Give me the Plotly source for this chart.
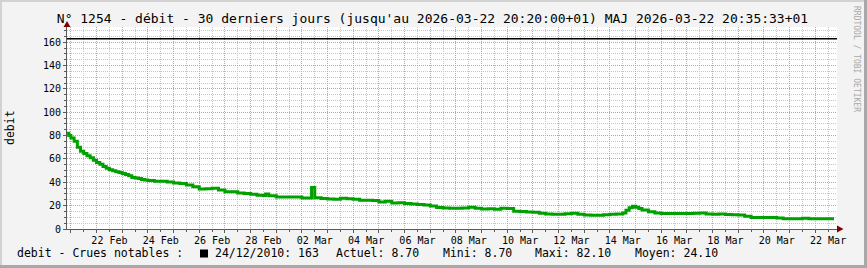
import plotly.graph_objects as go

# ---------------- data ----------------
times = [
    "2026-02-20 20:20", "2026-02-20 22:00",
    "2026-02-21 00:00", "2026-02-21 03:00", "2026-02-21 06:00", "2026-02-21 09:00",
    "2026-02-21 12:00", "2026-02-21 15:00", "2026-02-21 18:00", "2026-02-21 21:00",
    "2026-02-22 00:00", "2026-02-22 03:00", "2026-02-22 06:00", "2026-02-22 09:00",
    "2026-02-22 12:00", "2026-02-22 15:00", "2026-02-22 18:00", "2026-02-22 21:00",
    "2026-02-23 00:00", "2026-02-23 03:00", "2026-02-23 06:00", "2026-02-23 09:00",
    "2026-02-23 12:00", "2026-02-23 15:00", "2026-02-23 18:00", "2026-02-23 21:00",
    "2026-02-24 00:00", "2026-02-24 06:00", "2026-02-24 12:00", "2026-02-24 18:00",
    "2026-02-25 00:00", "2026-02-25 06:00", "2026-02-25 12:00", "2026-02-25 18:00",
    "2026-02-26 00:00", "2026-02-26 06:00", "2026-02-26 12:00", "2026-02-26 18:00",
    "2026-02-27 00:00", "2026-02-27 06:00", "2026-02-27 12:00", "2026-02-27 18:00",
    "2026-02-28 00:00", "2026-02-28 06:00", "2026-02-28 12:00", "2026-02-28 14:00", "2026-02-28 17:00",
    "2026-03-01 00:00", "2026-03-01 06:00", "2026-03-01 12:00", "2026-03-01 18:00",
    "2026-03-02 00:00", "2026-03-02 06:00", "2026-03-02 09:00", "2026-03-02 12:00", "2026-03-02 18:00",
    "2026-03-03 00:00", "2026-03-03 06:00", "2026-03-03 12:00", "2026-03-03 18:00",
    "2026-03-04 00:00", "2026-03-04 06:00", "2026-03-04 12:00", "2026-03-04 18:00",
    "2026-03-05 00:00", "2026-03-05 06:00", "2026-03-05 12:00", "2026-03-05 18:00",
    "2026-03-06 00:00", "2026-03-06 06:00", "2026-03-06 12:00", "2026-03-06 18:00",
    "2026-03-07 00:00", "2026-03-07 06:00", "2026-03-07 12:00", "2026-03-07 18:00",
    "2026-03-08 00:00", "2026-03-08 06:00", "2026-03-08 12:00", "2026-03-08 18:00",
    "2026-03-09 00:00", "2026-03-09 06:00", "2026-03-09 12:00", "2026-03-09 18:00",
    "2026-03-10 00:00", "2026-03-10 06:00", "2026-03-10 12:00", "2026-03-10 18:00",
    "2026-03-11 00:00", "2026-03-11 06:00", "2026-03-11 12:00", "2026-03-11 18:00",
    "2026-03-12 00:00", "2026-03-12 06:00", "2026-03-12 12:00", "2026-03-12 18:00",
    "2026-03-13 00:00", "2026-03-13 06:00", "2026-03-13 12:00", "2026-03-13 18:00",
    "2026-03-14 00:00", "2026-03-14 06:00", "2026-03-14 12:00", "2026-03-14 15:00",
    "2026-03-14 18:00", "2026-03-14 21:00",
    "2026-03-15 00:00", "2026-03-15 03:00", "2026-03-15 06:00", "2026-03-15 12:00", "2026-03-15 18:00",
    "2026-03-16 00:00", "2026-03-16 06:00", "2026-03-16 12:00", "2026-03-16 18:00",
    "2026-03-17 00:00", "2026-03-17 06:00", "2026-03-17 12:00", "2026-03-17 18:00",
    "2026-03-18 00:00", "2026-03-18 06:00", "2026-03-18 12:00", "2026-03-18 18:00",
    "2026-03-19 00:00", "2026-03-19 06:00", "2026-03-19 12:00", "2026-03-19 18:00",
    "2026-03-20 00:00", "2026-03-20 06:00", "2026-03-20 12:00", "2026-03-20 18:00",
    "2026-03-21 00:00", "2026-03-21 06:00", "2026-03-21 12:00", "2026-03-21 18:00",
    "2026-03-22 00:00", "2026-03-22 06:00", "2026-03-22 12:00", "2026-03-22 17:30",
]
debit = [
    82.1, 80.0,
    78.0, 75.2, 70.0, 66.5,
    64.6, 62.8, 61.0, 58.9,
    57.0, 55.4, 53.5, 52.0,
    50.8, 49.8, 49.0, 48.3,
    47.5, 46.6, 45.5, 44.2,
    43.6, 43.2, 42.5, 41.9,
    41.5, 40.9, 40.9, 40.3,
    39.5, 38.9, 37.6, 36.2,
    34.3, 34.5, 34.8, 33.3,
    31.8, 32.0, 30.9, 30.3,
    29.7, 29.0, 28.6, 30.0, 28.4,
    27.5, 27.4, 27.4, 27.4,
    26.6, 26.6, 35.5, 26.8, 26.2,
    25.8, 25.4, 26.3, 25.9,
    25.5, 24.7, 24.6, 24.4,
    23.1, 23.8, 22.3, 22.5,
    21.8, 21.4, 21.0, 20.6,
    19.6, 18.5, 18.0, 17.7,
    17.8, 18.0, 18.6, 17.8,
    17.2, 17.4, 17.0, 17.7,
    17.6, 15.2, 14.9, 14.5,
    14.3, 13.5, 12.8, 12.6,
    12.6, 13.0, 13.4, 12.6,
    12.0, 11.7, 11.7, 12.2,
    12.6, 12.8, 13.6, 16.0,
    18.2, 19.5,
    18.7, 17.6, 16.2, 14.7, 13.8,
    13.2, 13.2, 13.2, 13.2,
    13.2, 13.4, 13.6, 12.8,
    12.6, 12.9, 12.5, 12.2,
    12.0, 11.0, 9.8, 9.8,
    9.8, 9.8, 9.5, 8.8,
    8.8, 8.8, 9.2, 8.7,
    8.7, 8.7, 8.7, 8.7,
]

crue_date = "24/12/2010"
crue_value = 163
stat_labels = ["Actuel", "Mini", "Maxi", "Moyen"]
stat_values = [8.70, 8.70, 82.10, 24.10]

x_start = "2026-02-20 20:20"
x_end = "2026-03-22 20:20"
y_max = 173

title_text = ("N° 1254 - débit - 30 derniers jours (jusqu'au 2026-03-22 20:20:00+01) "
              "MAJ 2026-03-22 20:35:33+01")

# ---------------- layout helpers ----------------
WP, HP = 867, 268
L, R, T, B = 67, 30, 27, 39
PW = WP - L - R
PH = HP - T - B


def px(x):
    return (x - L) / PW


def py(y):
    return (HP - B - y) / PH


MONO = "DejaVu Sans Mono"
RED_GRID = "#ef8f8f"
GRAY_GRID = "#c6c6c6"
AX = "#5a5a5a"
ARROW = "#800000"
DAY = 86400000

fig = go.Figure()
fig.add_trace(go.Scatter(
    x=times, y=debit, mode="lines",
    line=dict(color="#00a000", width=3, shape="hv"),
    hoverinfo="skip", showlegend=False,
))
# helper trace so that the label axis is built
fig.add_trace(go.Scatter(
    x=[x_start, x_end], y=[0, 0], xaxis="x2", mode="markers",
    marker=dict(opacity=0), hoverinfo="skip", showlegend=False,
))

# notable flood rule
fig.add_shape(type="line", xref="paper", x0=0, x1=1, yref="y",
              y0=crue_value, y1=crue_value,
              line=dict(color="black", width=1.5))

# axis arrows
fig.add_shape(type="path", xref="paper", yref="paper",
              path=f"M {px(63.5)},{py(27)} L {px(67)},{py(21)} L {px(70.5)},{py(27)} Z",
              fillcolor=ARROW, line=dict(width=0))
fig.add_shape(type="path", xref="paper", yref="paper",
              path=f"M {px(837)},{py(225.5)} L {px(843.5)},{py(229)} L {px(837)},{py(232.5)} Z",
              fillcolor=ARROW, line=dict(width=0))

# frame border
fig.add_shape(type="rect", xref="paper", yref="paper", x0=px(0), x1=px(WP), y0=py(0), y1=py(2),
              fillcolor="#d2d2d2", line=dict(width=0))
fig.add_shape(type="rect", xref="paper", yref="paper", x0=px(0), x1=px(2), y0=py(0), y1=py(HP),
              fillcolor="#d2d2d2", line=dict(width=0))
fig.add_shape(type="rect", xref="paper", yref="paper", x0=px(0), x1=px(WP), y0=py(265), y1=py(HP),
              fillcolor="#a8a8a8", line=dict(width=0))
fig.add_shape(type="rect", xref="paper", yref="paper", x0=px(864), x1=px(WP), y0=py(0), y1=py(HP),
              fillcolor="#a8a8a8", line=dict(width=0))

# legend square
fig.add_shape(type="rect", xref="paper", yref="paper", x0=px(200), x1=px(208), y0=py(249.5), y1=py(257.5),
              fillcolor="black", line=dict(width=0))

annotations = []
leg_y = py(253.5)
leg_font = dict(family=MONO, size=11.5, color="#000000")
annotations.append(dict(text="debit - Crues notables :", x=px(15), y=leg_y, xref="paper", yref="paper",
                        xanchor="left", yanchor="middle", showarrow=False, font=leg_font))
annotations.append(dict(text=f"{crue_date}: {crue_value}", x=px(213), y=leg_y, xref="paper", yref="paper",
                        xanchor="left", yanchor="middle", showarrow=False, font=leg_font))
for lab, val, xp in zip(stat_labels, stat_values, [334, 441, 533, 633]):
    annotations.append(dict(text=f"{lab}: {val:.2f}", x=px(xp), y=leg_y, xref="paper", yref="paper",
                            xanchor="left", yanchor="middle", showarrow=False, font=leg_font))
annotations.append(dict(text="debit", x=px(10), y=py(128), xref="paper", yref="paper",
                        textangle=-90, xanchor="center", yanchor="middle", showarrow=False,
                        font=dict(family=MONO, size=11.5, color="#000000")))
annotations.append(dict(text="RRDTOOL / TOBI OETIKER", x=px(857), y=py(59), xref="paper", yref="paper",
                        textangle=90, xanchor="center", yanchor="middle", showarrow=False,
                        font=dict(family=MONO, size=8, color="#a8a8a8")))

fig.update_layout(
    width=WP, height=HP,
    margin=dict(l=L, r=R, t=T, b=B, pad=0),
    paper_bgcolor="#f3f3f3", plot_bgcolor="#ffffff",
    showlegend=False,
    title=dict(text=title_text, x=432.5 / WP, xanchor="center", y=1 - 18.5 / HP, yanchor="middle",
               xref="container", yref="container",
               font=dict(family=MONO, size=13, color="#000000")),
    xaxis=dict(
        type="date", range=[x_start, x_end], tick0="2026-02-21 00:00", dtick=DAY,
        showgrid=True, gridcolor=RED_GRID, griddash="1px,1px", gridwidth=1,
        showticklabels=False, ticks="outside", ticklen=3, tickcolor=AX,
        showline=True, linecolor=AX, linewidth=1, zeroline=False, fixedrange=True,
        minor=dict(dtick=DAY / 2, tick0="2026-02-21 00:00", showgrid=True, gridcolor=GRAY_GRID,
                   griddash="1px,1px", gridwidth=1, ticks="outside", ticklen=2, tickcolor=AX),
    ),
    xaxis2=dict(
        type="date", range=[x_start, x_end], overlaying="x", anchor="y", side="bottom",
        tick0="2026-02-22 12:00", dtick=2 * DAY, tickformat="%d %b",
        showgrid=False, ticks="", showline=False, zeroline=False, fixedrange=True,
        tickfont=dict(family=MONO, size=10, color="#000000"), ticklabelstandoff=4,
    ),
    yaxis=dict(
        range=[0, y_max], tick0=0, dtick=20,
        showgrid=True, gridcolor=RED_GRID, griddash="1px,1px", gridwidth=1,
        ticks="outside", ticklen=3, tickcolor=AX,
        showline=True, linecolor=AX, linewidth=1, zeroline=False, fixedrange=True,
        tickfont=dict(family=MONO, size=10, color="#000000"),
        minor=dict(dtick=5, showgrid=True, gridcolor=GRAY_GRID, griddash="1px,1px", gridwidth=1,
                   ticks="outside", ticklen=2, tickcolor=AX),
    ),
    annotations=annotations,
)

fig.write_html("out.html")
